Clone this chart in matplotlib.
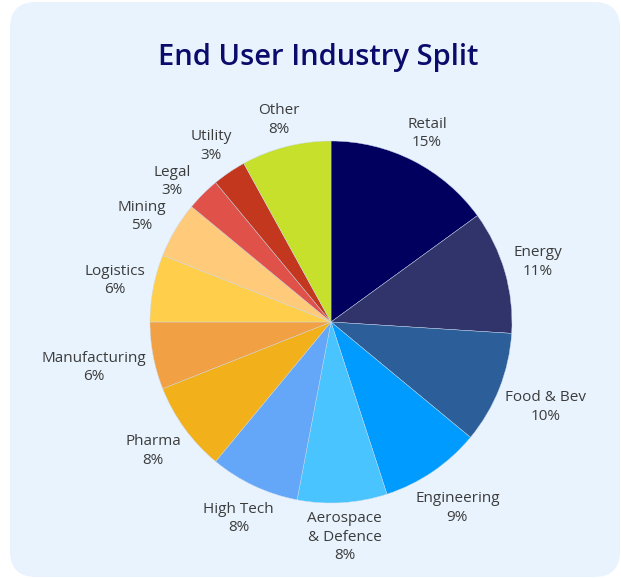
import numpy as np
import matplotlib.pyplot as plt
from matplotlib.patches import FancyBboxPatch

# chart data
industries = ['Retail', 'Energy', 'Food & Bev', 'Engineering', 'Aerospace\n& Defence',
              'High Tech', 'Pharma', 'Manufacturing', 'Logistics', 'Mining',
              'Legal', 'Utility', 'Other']
shares = [15, 11, 10, 9, 8, 8, 8, 6, 6, 5, 3, 3, 8]
colors = ['#02005f', '#31346b', '#2c5f99', '#009bff', '#4ac4ff',
          '#64a6f8', '#f2b01a', '#f2a044', '#ffcf4b', '#ffca7a',
          '#e0514a', '#c4371f', '#c6e02b']

plt.rcParams['font.family'] = ['Open Sans', 'DejaVu Sans']

W, H = 621, 578
fig = plt.figure(figsize=(W / 100, H / 100), dpi=100)
fig.patch.set_facecolor('white')

# background panel in pixel coords
bg = fig.add_axes([0, 0, 1, 1])
bg.set_xlim(0, W)
bg.set_ylim(H, 0)
bg.axis('off')
bg.add_patch(FancyBboxPatch((10, 2), 610, 575, boxstyle='round,pad=0,rounding_size=26',
                            fc='#e8f3fd', ec='none'))
bg.text(318, 57, 'End User Industry Split', ha='center', va='center',
        fontsize=21, fontweight='semibold', color='#0b0b6b')

# pie: centre (331, 322) px, radius 181 px
cx, cy, R = 331, 322, 181
ax = fig.add_axes([(cx - R) / W, (H - cy - R) / H, 2 * R / W, 2 * R / H])
wedges, _ = ax.pie(shares, colors=colors, startangle=90, counterclock=False,
                   wedgeprops=dict(linewidth=0.3, edgecolor='#c9d9ea'))
ax.set_xlim(-1, 1)
ax.set_ylim(-1, 1)
ax.axis('off')

renderer = fig.canvas.get_renderer()
gap = 0.035
items = []
for w, name, v in zip(wedges, industries, shares):
    ang = np.deg2rad((w.theta1 + w.theta2) / 2)
    dx, dy = np.cos(ang), np.sin(ang)
    t = ax.text(0, 0, f'{name}\n{v}%', ha='center', va='center', multialignment='center',
                fontsize=11, color='#3c3c3c', clip_on=False, linespacing=1.3)
    bb = t.get_window_extent(renderer)
    tw, th = bb.width / R, bb.height / R
    dist = 1 + gap + tw / 2 * abs(dx) + th / 2 * abs(dy)
    items.append(dict(t=t, x=dist * dx, y=dist * dy, w=tw, h=th, d=dist, side=np.sign(dx)))

# push overlapping labels down on each side
for side in (-1, 1):
    group = sorted([i for i in items if i['side'] == side], key=lambda i: -i['y'])
    for prev, cur in zip(group, group[1:]):
        ox = abs(prev['x'] - cur['x']) < (prev['w'] + cur['w']) / 2
        oy = prev['y'] - cur['y'] < (prev['h'] + cur['h']) / 2
        if ox and oy:
            cur['y'] = prev['y'] - (prev['h'] + cur['h']) / 2 - 0.01
            if abs(cur['y']) < cur['d']:
                cur['x'] = side * np.sqrt(cur['d'] ** 2 - cur['y'] ** 2)

for i in items:
    i['t'].set_position((i['x'], i['y']))

fig.savefig('out.png', dpi=100, facecolor=fig.get_facecolor())
